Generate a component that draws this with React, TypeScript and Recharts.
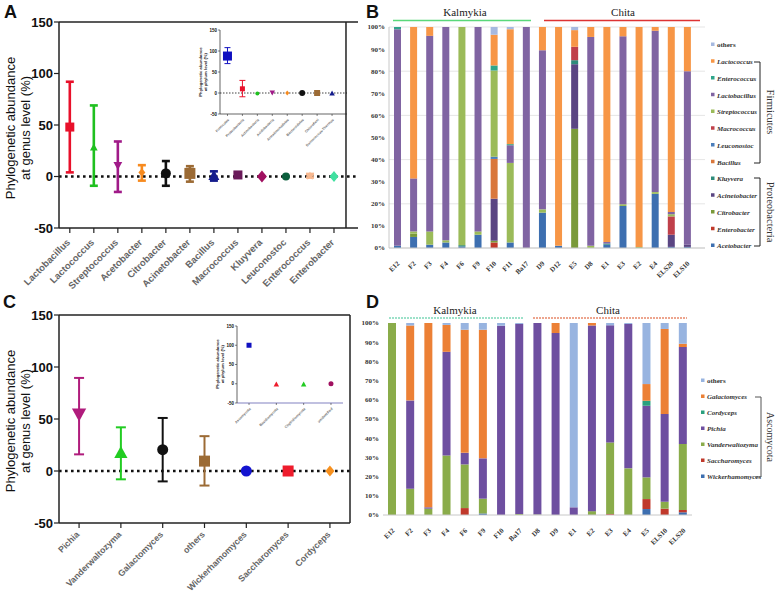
import React from "react";
import {
  ScatterChart,
  Scatter,
  XAxis,
  YAxis,
  ErrorBar,
  ReferenceLine,
  BarChart,
  Bar,
  CartesianGrid,
} from "recharts";

// ---------- panel A: bacteria, genus level ----------
const genusA = ["Lactobacillus", "Lactococcus", "Streptococcus", "Acetobacter", "Citrobacter", "Acinetobacter", "Bacillus", "Macrococcus", "Kluyvera", "Leuconostoc", "Enterococcus", "Enterobacter"];
const meanA = [48, 28, 11, 4, 3, 3, 0.5, 1.5, 0, 0, 0.5, 0];
const lowA = [4, -9, -15, -4, -9, -5, -4, -1, 0, 0, -1, 0];
const highA = [92, 69, 34, 11, 15, 10, 5, 4, 0, 0, 2.5, 0];

// inset A: phylum level
const phylaA = ["Firmicutes", "Proteobacteria", "Actinobacteria", "Acidobacteria", "Armatimonadetes", "Bacteroidetes", "Chloroflexi", "Deinococcus-Thermus"];
const meanPA = [88, 10, -1, 1, 0, 0, 0, -1];
const lowPA = [70, -9, -1, 1, 0, 0, 0, -1];
const highPA = [108, 30, -1, 1, 0, 0, 0, -1];

// ---------- panel C: fungi, genus level ----------
const genusC = ["Pichia", "Vanderwaltozyma", "Galactomyces", "others", "Wickerhamomyces", "Saccharomyces", "Cordyceps"];
const meanC = [55, 17, 20.5, 9.5, 0, 0, 0];
const lowC = [16, -8, -10, -14, 0, 0, 0];
const highC = [89.5, 42, 51, 33.5, 0, 0, 0];

// inset C: phylum level
const phylaC = ["Ascomycota", "Basidiomycota", "Chytridiomycota", "unidentified"];
const meanPC = [100, -2, -2, 0];

// ---------- panel B: bacteria per sample (%) ----------
const samplesB = ["E12", "F2", "F3", "F4", "F6", "F9", "F10", "F11", "Ba17", "D9", "D12", "E5", "D8", "E1", "E3", "E2", "E4", "ELS20", "ELS10"];
const bAcetobacter = [1, 5, 1.5, 2.5, 0.7, 6, 0, 2.5, 0, 16, 1, 0, 0, 1.5, 19, 0, 24.5, 0.5, 0.5];
const bEnterobacter = [0, 0, 0, 0, 0, 0, 2.5, 0, 0, 0, 0, 0, 0, 0, 0, 0, 0, 0, 0];
const bCitrobacter = [0, 1.5, 0, 0, 0, 0, 0.8, 0, 0, 0, 0, 53.5, 0, 0, 0, 0, 0, 0, 0];
const bAcinetobacter = [0, 0, 0, 0, 0, 0, 19, 0, 0, 0, 0, 29, 0, 0, 0, 0, 0, 5.5, 1];
const bKluyvera = [0, 0, 0, 0, 0.6, 0, 0, 0, 0, 0, 0, 1.8, 0, 0.5, 0, 0, 0, 0, 0];
const bBacillus = [0, 0, 0, 0, 0, 0, 18, 0, 0, 0, 0, 0, 0, 0, 0, 0, 0, 0, 0];
const bLeuconostoc = [0, 0, 0, 0, 0, 0, 1, 0, 0, 0, 0, 0, 0, 0, 0, 0, 0, 0, 0];
const bMacrococcus = [0, 0, 0, 0, 0, 0, 0, 0, 0, 0, 0, 6, 0, 0, 0, 0, 0, 8.3, 0];
const bStreptococcus = [0, 1, 6, 1, 98.7, 1.5, 39, 36, 0, 1.5, 0, 0, 1, 0, 0.8, 0.5, 0.8, 1, 0];
const bLactobacillus = [98, 24, 88.5, 96.5, 0, 92.5, 0, 8, 100, 72, 0, 0, 94.5, 0.7, 76, 0, 73, 1, 78.5];
const bEnterococcus = [1, 0, 0, 0, 0, 0, 2.3, 0.5, 0, 0, 0, 0, 0, 0, 0, 0, 0, 0, 0];
const bLactococcus = [0, 68.5, 4, 0, 0, 0, 13.9, 52, 0, 10.5, 99, 7.5, 4.5, 97.3, 4.2, 99.5, 1.7, 83.7, 20];
const bOthers = [0, 0, 0, 0, 0, 0, 3.5, 1, 0, 0, 0, 1.4, 0, 0, 0, 0, 0, 0, 0];

// stack order bottom -> top
const genusB = ["Acetobacter", "Enterobacter", "Citrobacter", "Acinetobacter", "Kluyvera", "Bacillus", "Leuconostoc", "Macrococcus", "Streptococcus", "Lactobacillus", "Enterococcus", "Lactococcus", "others"];
const valuesB = [bAcetobacter, bEnterobacter, bCitrobacter, bAcinetobacter, bKluyvera, bBacillus, bLeuconostoc, bMacrococcus, bStreptococcus, bLactobacillus, bEnterococcus, bLactococcus, bOthers];

// ---------- panel D: fungi per sample (%) ----------
const samplesD = ["E12", "F2", "F3", "F4", "F6", "F9", "F10", "Ba17", "D8", "D9", "E1", "E2", "E3", "E4", "E5", "ELS10", "ELS20"];
const dWickerhamomyces = [0, 0, 0, 0, 0, 0.8, 0, 0, 0, 0, 0, 0, 0, 0, 3.1, 0, 1.4];
const dSaccharomyces = [0, 0, 0, 0, 3.6, 0, 0, 0, 0, 0, 0, 0, 0.5, 0, 5.2, 3.3, 1.2];
const dVanderwaltozyma = [100, 13.7, 3.3, 31, 22.7, 7.7, 0, 0.5, 0.3, 0, 0, 2, 37.3, 24.3, 11.3, 3.6, 34.4];
const dPichia = [0, 46, 0.7, 54, 6, 21, 98.6, 99, 99.7, 94.8, 4, 96.7, 61, 75.2, 37.3, 45.7, 50.5];
const dCordyceps = [0, 0, 0, 0, 0, 0, 0, 0, 0, 0, 0, 0, 0, 0, 2.6, 0, 0];
const dGalactomyces = [0, 39, 96, 14, 64, 67, 0, 0, 0, 5.2, 0, 1.3, 0, 0, 8.7, 44.3, 1.7];
const dOthers = [0, 1.3, 0, 1, 3.5, 3.5, 1.4, 0.5, 0, 0, 96, 0, 1.2, 0.5, 31.8, 3.1, 10.8];

const genusD = ["Wickerhamomyces", "Saccharomyces", "Vanderwaltozyma", "Pichia", "Cordyceps", "Galactomyces", "others"];
const valuesD = [dWickerhamomyces, dSaccharomyces, dVanderwaltozyma, dPichia, dCordyceps, dGalactomyces, dOthers];

// ---------- styles ----------
const SANS = "'Liberation Sans', Arial, sans-serif";
const SERIF = "'Liberation Serif', 'Times New Roman', serif";

const colorsA = ["#e8102a", "#1fc01f", "#a01a88", "#f78a1e", "#111111", "#9c6b35", "#141c8c", "#6a1a5a", "#a01060", "#0b5e3c", "#f7b890", "#40e0a0"];
const kindsA = ["square", "triangle", "down", "diamond", "circle", "square", "triangle", "square", "diamond", "circle", "star", "diamond"];
const sizesA = [4.5, 3.5, 4, 3.5, 5, 5.5, 5, 4.5, 5, 4, 3.5, 4.5];

const colorsPA = ["#1010c0", "#e8102a", "#1fc01f", "#a01a88", "#f78a1e", "#111111", "#9c6b35", "#141c8c"];
const kindsPA = ["square", "square", "circle", "down", "diamond", "circle", "square", "triangle"];
const sizesPA = [4.5, 2.5, 2, 2.5, 2, 3, 3, 2.5];

const colorsC = ["#b01c7c", "#22cc22", "#111111", "#9c6b35", "#1414d0", "#ee1c2c", "#f7901e"];
const kindsC = ["down", "triangle", "circle", "square", "circle", "square", "diamond"];
const sizesC = [6.5, 6, 5.5, 5.5, 5.5, 5.5, 4.5];

const colorsPC = ["#1010c0", "#ee1c2c", "#22cc22", "#a01060"];
const kindsPC = ["square", "triangle", "triangle", "circle"];
const sizesPC = [2.5, 2.5, 2.5, 2.5];

const colorsB = ["#3d6fb0", "#c0392b", "#7a9a3a", "#5a4582", "#2e8b7a", "#d9773b", "#4a7ebb", "#c0404a", "#9bbb59", "#8064a2", "#2fa58a", "#f79646", "#a6b9e0"];
const colorsD = ["#3d6fb0", "#c0392b", "#8aac4a", "#6e4fa0", "#2aa07e", "#ec8035", "#98b4e0"];

type Kind = string;

function Marker(props: any) {
  const { cx, cy, kind, r, color } = props;
  if (cx == null || cy == null) return null;
  if (kind === "circle") return <circle cx={cx} cy={cy} r={r} fill={color} />;
  if (kind === "square") return <rect x={cx - r} y={cy - r} width={2 * r} height={2 * r} fill={color} />;
  if (kind === "triangle")
    return <polygon points={`${cx},${cy - r * 1.2} ${cx + r * 1.1},${cy + r * 0.8} ${cx - r * 1.1},${cy + r * 0.8}`} fill={color} />;
  if (kind === "down")
    return <polygon points={`${cx},${cy + r * 1.2} ${cx + r * 1.1},${cy - r * 0.8} ${cx - r * 1.1},${cy - r * 0.8}`} fill={color} />;
  if (kind === "diamond")
    return <polygon points={`${cx},${cy - r * 1.2} ${cx + r},${cy} ${cx},${cy + r * 1.2} ${cx - r},${cy}`} fill={color} />;
  // star
  const pts: string[] = [];
  for (let k = 0; k < 10; k++) {
    const rr = k % 2 === 0 ? r * 1.3 : r * 0.6;
    const a = -Math.PI / 2 + (k * Math.PI) / 5;
    pts.push(`${cx + rr * Math.cos(a)},${cy + rr * Math.sin(a)}`);
  }
  return <polygon points={pts.join(" ")} fill={color} />;
}

function SlantTick(props: any) {
  const { x, y, payload, labels, fontSize, fontFamily, fontWeight, dy, dx, fill, fontStyle } = props;
  const text = labels ? labels[payload.value] : payload.value;
  const px = x + (dx || 0);
  const py = y + (dy || 0);
  return (
    <text
      x={px}
      y={py}
      textAnchor="end"
      transform={`rotate(-45 ${px} ${py})`}
      fontSize={fontSize}
      fontFamily={fontFamily}
      fontWeight={fontWeight}
      fontStyle={fontStyle}
      fill={fill || "#111"}
    >
      {text}
    </text>
  );
}

interface DotPlotProps {
  names: string[];
  mean: number[];
  low: number[];
  high: number[];
  colors: string[];
  kinds: Kind[];
  sizes: number[];
  width: number;
  height: number;
  margin: { top: number; right: number; bottom: number; left: number };
  yWidth: number;
  xHeight: number;
  xDomain: [number, number];
  tickFont: number;
  xFont: number;
  capWidth: number;
  barWidth: number;
  axisWidth: number;
  zeroLine: boolean;
  zeroWidth: number;
  zeroDash: string;
  frame: boolean;
  bottomAxisColor?: string;
  xDy: number;
  xDx: number;
}

function DotPlot(p: DotPlotProps) {
  const ticks = p.names.map((_, i) => i);
  return (
    <ScatterChart width={p.width} height={p.height} margin={p.margin}>
      <XAxis
        type="number"
        dataKey="x"
        domain={p.xDomain}
        ticks={ticks}
        interval={0}
        allowDecimals={false}
        height={p.xHeight}
        tickSize={p.tickFont > 8 ? 5 : 2}
        axisLine={{ stroke: p.bottomAxisColor || "#222", strokeWidth: p.axisWidth }}
        tickLine={{ stroke: "#222", strokeWidth: p.axisWidth * 0.8 }}
        tick={
          <SlantTick labels={p.names} fontSize={p.xFont} fontFamily={SANS} fontWeight={700} dy={p.xDy} dx={p.xDx} />
        }
      />
      <YAxis
        type="number"
        dataKey="y"
        domain={[-50, 150]}
        ticks={[-50, 0, 50, 100, 150]}
        width={p.yWidth}
        tickSize={p.tickFont > 8 ? 5 : 2}
        tickMargin={1}
        axisLine={{ stroke: "#222", strokeWidth: p.axisWidth }}
        tickLine={{ stroke: "#222", strokeWidth: p.axisWidth * 0.8 }}
        tick={{ fontSize: p.tickFont, fontWeight: 700, fill: "#111", fontFamily: SANS }}
      />
      {p.frame && <ReferenceLine y={150} stroke="#222" strokeWidth={p.axisWidth} />}
      {p.frame && <ReferenceLine x={p.xDomain[1]} stroke="#222" strokeWidth={p.axisWidth} />}
      {p.zeroLine && (
        <ReferenceLine y={0} stroke="#111" strokeWidth={p.zeroWidth} strokeDasharray={p.zeroDash} />
      )}
      {p.names.map((name, i) => {
        const data = [{ x: i, y: p.mean[i], err: [p.mean[i] - p.low[i], p.high[i] - p.mean[i]] }];
        const hasErr = p.high[i] - p.low[i] > 0;
        return (
          <Scatter
            key={name}
            name={name}
            data={data}
            fill={p.colors[i]}
            isAnimationActive={false}
            shape={(sp: any) => <Marker cx={sp.cx} cy={sp.cy} kind={p.kinds[i]} r={p.sizes[i]} color={p.colors[i]} />}
          >
            {hasErr && (
              <ErrorBar
                dataKey="err"
                direction="y"
                width={p.capWidth}
                stroke={p.colors[i]}
                strokeWidth={p.barWidth}
                isAnimationActive={false}
              />
            )}
          </Scatter>
        );
      })}
    </ScatterChart>
  );
}

function rowsOf(samples: string[], genera: string[], values: number[][]) {
  return samples.map((s, i) => {
    const row: Record<string, string | number> = { sample: s };
    genera.forEach((g, k) => {
      row[g] = values[k][i];
    });
    return row;
  });
}

const pctTicks = [0, 0.1, 0.2, 0.3, 0.4, 0.5, 0.6, 0.7, 0.8, 0.9, 1];

function StackPanel(props: {
  samples: string[];
  genera: string[];
  values: number[][];
  colors: string[];
  width: number;
  height: number;
  margin: { top: number; right: number; bottom: number; left: number };
  yWidth: number;
  xHeight: number;
  barSize: number;
  grid: boolean;
  padRight: number;
}) {
  const rows = rowsOf(props.samples, props.genera, props.values);
  return (
    <BarChart width={props.width} height={props.height} data={rows} margin={props.margin} stackOffset="expand" barCategoryGap={0}>
      {props.grid && <CartesianGrid vertical={false} stroke="#dedede" strokeWidth={0.8} />}
      <XAxis
        dataKey="sample"
        interval={0}
        height={props.xHeight}
        padding={{ left: 0, right: props.padRight }}
        tickLine={false}
        axisLine={{ stroke: "#c8c8c8" }}
        tick={<SlantTick fontSize={7} fontFamily={SERIF} fontWeight={700} dy={8} dx={3} fill="#333" />}
      />
      <YAxis
        type="number"
        domain={[0, 1]}
        ticks={pctTicks}
        width={props.yWidth}
        tickSize={2}
        tickMargin={2}
        axisLine={{ stroke: props.grid ? "#c8c8c8" : "none" }}
        tickLine={false}
        tickFormatter={(v: number) => `${Math.round(v * 100)}%`}
        tick={{ fontSize: 7, fontWeight: 700, fill: "#333", fontFamily: SERIF }}
      />
      {props.genera.map((g, k) => (
        <Bar key={g} dataKey={g} stackId="s" fill={props.colors[k]} barSize={props.barSize} isAnimationActive={false} />
      ))}
    </BarChart>
  );
}

function Legend(props: { genera: string[]; colors: string[]; x: number; y0: number; step: number }) {
  const items = props.genera.map((g, k) => ({ g, c: props.colors[k] })).reverse();
  return (
    <g>
      {items.map((it, j) => (
        <g key={it.g}>
          <rect x={props.x} y={props.y0 + j * props.step - 2.5} width={3.5} height={3.5} fill={it.c} />
          <text
            x={props.x + 6}
            y={props.y0 + j * props.step + 2.3}
            fontSize={7}
            fontFamily={SERIF}
            fontWeight={700}
            fontStyle={it.g === "others" ? "normal" : "italic"}
            fill="#333"
          >
            {it.g}
          </text>
        </g>
      ))}
    </g>
  );
}

function Overlay() {
  const letter = { fontSize: 18, fontWeight: 700, fontFamily: SANS, fill: "#111" } as const;
  const ylab = { fontSize: 13, fontFamily: SANS, fill: "#111", textAnchor: "middle" } as const;
  const tiny = { fontSize: 4.2, fontFamily: SANS, fontWeight: 700, fill: "#222", textAnchor: "middle" } as const;
  const region = { fontSize: 11, fontFamily: SERIF, fill: "#222", textAnchor: "middle" } as const;
  const phylum = { fontSize: 10.5, fontFamily: SERIF, fill: "#333", textAnchor: "middle" } as const;
  return (
    <svg width={778} height={593} style={{ position: "absolute", left: 0, top: 0, pointerEvents: "none" }}>
      <text x={4} y={18} {...letter}>A</text>
      <text x={366} y={18} {...letter}>B</text>
      <text x={3} y={308} {...letter}>C</text>
      <text x={366} y={308} {...letter}>D</text>

      <g transform="translate(15 128) rotate(-90)">
        <text x={0} y={0} {...ylab}>Phylogenetic abundance</text>
        <text x={0} y={15} {...ylab}>at genus level (%)</text>
      </g>
      <g transform="translate(15 421) rotate(-90)">
        <text x={0} y={0} {...ylab}>Phylogenetic abundance</text>
        <text x={0} y={15} {...ylab}>at genus level (%)</text>
      </g>
      <g transform="translate(202 72) rotate(-90)">
        <text x={0} y={0} {...tiny}>Phylogenetic abundance</text>
        <text x={0} y={5} {...tiny}>at phylum level (%)</text>
      </g>
      <g transform="translate(219 364) rotate(-90)">
        <text x={0} y={0} {...tiny}>Phylogenetic abundance</text>
        <text x={0} y={5} {...tiny}>at phylum level (%)</text>
      </g>

      <text x={465} y={16} {...region}>Kalmykia</text>
      <line x1={393} y1={20.5} x2={531} y2={20.5} stroke="#5ad87a" strokeWidth={1.3} />
      <text x={623} y={16} {...region}>Chita</text>
      <line x1={544} y1={20.5} x2={700} y2={20.5} stroke="#dd3333" strokeWidth={1.3} />

      <text x={455} y={314} {...region}>Kalmykia</text>
      <line x1={389} y1={318} x2={523} y2={318} stroke="#7dd8b8" strokeWidth={1.3} strokeDasharray="2 1" />
      <text x={608} y={314} {...region}>Chita</text>
      <line x1={533} y1={318} x2={687} y2={318} stroke="#e8886a" strokeWidth={1.3} strokeDasharray="2 1" />

      <Legend genera={genusB} colors={colorsB} x={711} y0={45} step={16.75} />
      <Legend genera={genusD} colors={colorsD} x={701} y0={381} step={16} />

      <path d="M754 62 H760 V163 H754" fill="none" stroke="#222" strokeWidth={1} />
      <path d="M754 178 H760 V246 H754" fill="none" stroke="#222" strokeWidth={1} />
      <g transform="translate(767 112) rotate(90)">
        <text x={0} y={0} {...phylum}>Firmicutes</text>
      </g>
      <g transform="translate(767 212) rotate(90)">
        <text x={0} y={0} {...phylum}>Proteobacteria</text>
      </g>

      <path d="M755 397 H761 V477 H755" fill="none" stroke="#555" strokeWidth={1} />
      <g transform="translate(767 437) rotate(90)">
        <text x={0} y={0} {...phylum} fontSize={10}>Ascomycota</text>
      </g>
    </svg>
  );
}

export default function App() {
  return (
    <div style={{ position: "absolute", left: 0, top: 0, width: 778, height: 593, background: "#fff", overflow: "hidden" }}>
      <div style={{ position: "absolute", left: 0, top: 0 }}>
        <DotPlot
          names={genusA}
          mean={meanA}
          low={lowA}
          high={highA}
          colors={colorsA}
          kinds={kindsA}
          sizes={sizesA}
          width={385}
          height={290}
          margin={{ top: 22, right: 27, bottom: 0, left: 0 }}
          yWidth={59}
          xHeight={62}
          xDomain={[-0.45, 11.5]}
          tickFont={13}
          xFont={9.5}
          capWidth={4}
          barWidth={2.6}
          axisWidth={1.5}
          zeroLine
          zeroWidth={2.6}
          zeroDash="2.6 3.4"
          frame
          xDy={8}
          xDx={1}
        />
      </div>
      <div style={{ position: "absolute", left: 190, top: 20 }}>
        <DotPlot
          names={phylaA}
          mean={meanPA}
          low={lowPA}
          high={highPA}
          colors={colorsPA}
          kinds={kindsPA}
          sizes={sizesPA}
          width={165}
          height={140}
          margin={{ top: 10, right: 8, bottom: 0, left: 0 }}
          yWidth={30}
          xHeight={46}
          xDomain={[-0.5, 7.57]}
          tickFont={4.5}
          xFont={3.5}
          capWidth={3}
          barWidth={1}
          axisWidth={0.7}
          zeroLine
          zeroWidth={0.8}
          zeroDash="1.5 1.5"
          frame={false}
          xDy={2}
          xDx={2}
        />
      </div>
      <div style={{ position: "absolute", left: 0, top: 290 }}>
        <DotPlot
          names={genusC}
          mean={meanC}
          low={lowC}
          high={highC}
          colors={colorsC}
          kinds={kindsC}
          sizes={sizesC}
          width={385}
          height={303}
          margin={{ top: 25, right: 35, bottom: 0, left: 0 }}
          yWidth={59}
          xHeight={70}
          xDomain={[-0.48, 6.48]}
          tickFont={13}
          xFont={8.8}
          capWidth={5}
          barWidth={2}
          axisWidth={1.5}
          zeroLine
          zeroWidth={2.6}
          zeroDash="2.6 3.4"
          frame
          xDy={5}
          xDx={1}
        />
      </div>
      <div style={{ position: "absolute", left: 207, top: 316 }}>
        <DotPlot
          names={phylaC}
          mean={meanPC}
          low={meanPC}
          high={meanPC}
          colors={colorsPC}
          kinds={kindsPC}
          sizes={sizesPC}
          width={140}
          height={130}
          margin={{ top: 10, right: 4, bottom: 0, left: 0 }}
          yWidth={30}
          xHeight={43}
          xDomain={[-0.44, 3.44]}
          tickFont={4.5}
          xFont={3.5}
          capWidth={3}
          barWidth={1}
          axisWidth={0.7}
          zeroLine={false}
          zeroWidth={0.8}
          zeroDash="1.5 1.5"
          frame={false}
          bottomAxisColor="#4a4aa8"
          xDy={2}
          xDx={2}
        />
      </div>
      <div style={{ position: "absolute", left: 355, top: 0 }}>
        <StackPanel
          samples={samplesB}
          genera={genusB}
          values={valuesB}
          colors={colorsB}
          width={360}
          height={290}
          margin={{ top: 27, right: 10, bottom: 0, left: 0 }}
          yWidth={34}
          xHeight={42}
          barSize={7}
          grid
          padRight={10}
        />
      </div>
      <div style={{ position: "absolute", left: 350, top: 290 }}>
        <StackPanel
          samples={samplesD}
          genera={genusD}
          values={valuesD}
          colors={colorsD}
          width={350}
          height={303}
          margin={{ top: 33, right: 8, bottom: 0, left: 0 }}
          yWidth={33}
          xHeight={78}
          barSize={8}
          grid={false}
          padRight={0}
        />
      </div>
      <Overlay />
    </div>
  );
}
